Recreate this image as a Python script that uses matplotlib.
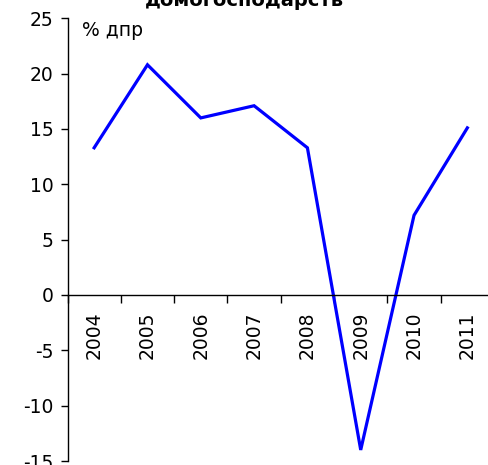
import matplotlib
matplotlib.use('Agg')
import matplotlib.pyplot as plt
import numpy as np

# Дані з графіка
years = ['2004', '2005', '2006', '2007', '2008', '2009', '2010', '2011']
growth = [13.3, 20.8, 16.0, 17.1, 13.3, -14.0, 7.2, 15.1]
y_ticks = [25, 20, 15, 10, 5, 0, -5, -10, -15]
unit_label = '% дпр'
title_text = 'домогосподарств'

plt.rcParams['font.family'] = ['DejaVu Sans']
FS = 13.5

fig = plt.figure(figsize=(4.89, 4.65), dpi=100)
W, H = 489, 465
ax = fig.add_axes([67.5 / W, 4 / H, (494 - 67.5) / W, (461 - 18.3) / H])

x = np.arange(len(years))
ax.plot(x, growth, color='#0000ff', linewidth=2.3, solid_joinstyle='miter')

ax.set_xlim(-0.5, len(years) - 0.5)
ax.set_ylim(-15, 25)
ax.set_yticks(y_ticks)
ax.set_yticklabels([str(v) for v in y_ticks], fontsize=FS)
ax.tick_params(axis='y', direction='out', length=5, width=1, pad=5)

# вісь X по нулю
ax.spines['bottom'].set_position(('data', 0))
ax.spines['top'].set_visible(False)
ax.spines['right'].set_visible(False)
ax.spines['left'].set_linewidth(1)
ax.spines['bottom'].set_linewidth(1)

ax.set_xticks(np.arange(-0.5, len(years) + 0.5, 1.0))
ax.set_xticklabels([])
ax.tick_params(axis='x', which='major', direction='out', length=5.5, width=1)
ax.set_xticks(x, minor=True)
ax.set_xticklabels(years, minor=True, rotation=90, fontsize=FS)
ax.tick_params(axis='x', which='minor', length=0, pad=12)

fig.text(82 / W, 1 - 31 / H, unit_label, fontsize=FS, va='center', ha='left')
fig.text(244.5 / W, 1 - 5.5 / H, title_text, fontsize=14, fontweight='bold',
         va='baseline', ha='center')

fig.savefig('out.png', dpi=100)
